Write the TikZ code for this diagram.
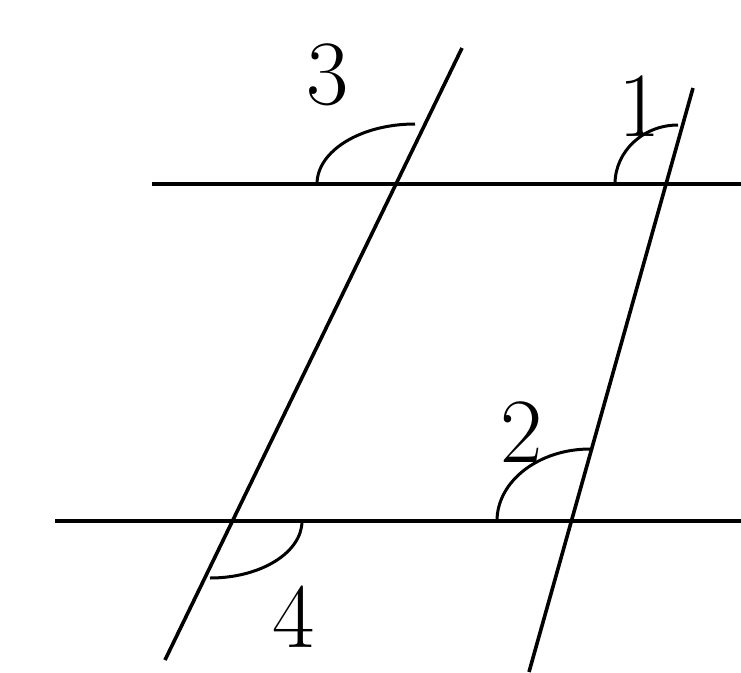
\documentclass[tikz,border=0pt]{standalone}
\begin{document}
\begin{tikzpicture}[x=1pt,y=1pt,
  ln/.style={line width=3.6pt},
  ang/.style={line width=3pt},
  lbl/.style={inner sep=0pt,font=\fontsize{92}{100}\selectfont}]
\useasboundingbox (0,0) rectangle (741,-672);
% line end points
\coordinate (t1) at (152,-184);
\coordinate (t2) at (741,-184);
\coordinate (b1) at (55,-521);
\coordinate (b2) at (741,-521);
\coordinate (l1) at (462,-48);
\coordinate (l2) at (165,-660);
\coordinate (r1) at (693,-88);
\coordinate (r2) at (529,-672);
\draw[ln] (t1) -- (t2);
\draw[ln] (b1) -- (b2);
\draw[ln] (l1) -- (l2);
\draw[ln] (r1) -- (r2);
% angle marks
\draw[ang] (317,-184) arc[start angle=180,end angle=90,x radius=98,y radius=60];
\draw[ang] (615,-184) arc[start angle=180,end angle=90,x radius=63,y radius=59];
\draw[ang] (497,-521) arc[start angle=180,end angle=90,x radius=93,y radius=72];
\draw[ang] (302,-521) arc[start angle=0,end angle=-90,x radius=92,y radius=57];
% labels
\node[lbl] (n3) at (328,-75) {3};
\node[lbl] (n1) at (640,-106) {1};
\node[lbl] (n2) at (522,-432) {2};
\node[lbl] (n4) at (294,-617) {4};
\end{tikzpicture}
\end{document}
